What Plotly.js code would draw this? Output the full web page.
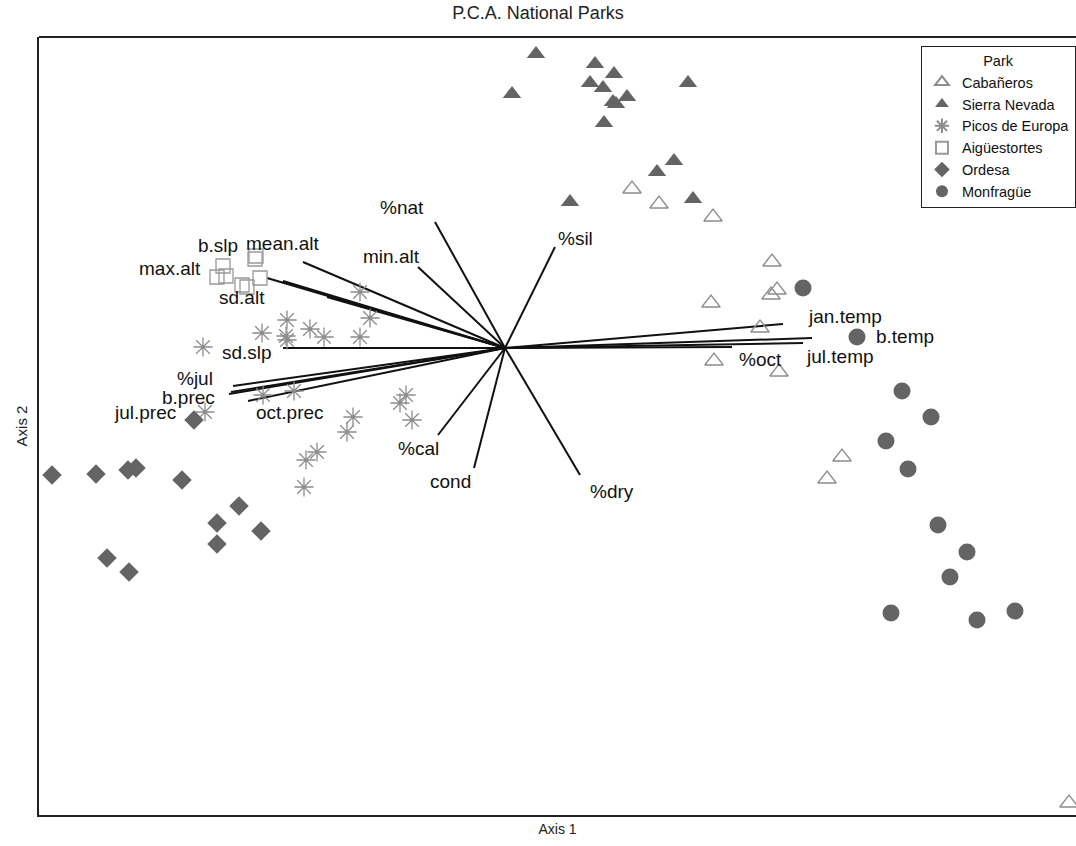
<!DOCTYPE html>
<html>
<head>
<meta charset="utf-8">
<script src="https://cdn.plot.ly/plotly-3.0.1.min.js"></script>
<style>html,body{margin:0;padding:0;background:#fff;}#chart{width:1076px;height:846px;}</style>
</head>
<body>
<div id="chart"></div>
<script>
// PCA site scores (Axis 1, Axis 2)
const cabanerosX = [1.27, 1.54, 2.08, 2.67, 2.72, 2.66, 2.06, 2.55, 2.09, 2.74, 3.37, 3.22, 5.64];
const cabanerosY = [1.59, 1.44, 1.31, 0.86, 0.58, 0.53, 0.45, 0.20, -0.13, -0.24, -1.09, -1.31, -4.55];

const sierraX = [0.31, 0.90, 1.09, 0.85, 0.98, 1.08, 1.11, 1.22, 0.99, 0.07, 1.83, 1.52, 1.69, 1.88, 0.65];
const sierraY = [2.94, 2.84, 2.74, 2.65, 2.60, 2.46, 2.44, 2.51, 2.25, 2.54, 2.65, 1.76, 1.87, 1.49, 1.46];

const picosX = [-1.45, -1.35, -2.18, -2.43, -2.19, -2.18, -1.95, -1.81, -1.45, -3.02, -2.42, -2.11, -3.00, -1.52, -1.58, -1.88, -1.99, -2.01, -0.99, -1.05, -0.93];
const picosY = [0.56, 0.30, 0.28, 0.15, 0.12, 0.08, 0.19, 0.11, 0.11, 0.01, -0.47, -0.43, -0.64, -0.69, -0.84, -1.04, -1.12, -1.39, -0.47, -0.55, -0.72];

const aiguesX = [-2.82, -2.88, -2.79, -2.50, -2.49, -2.45, -2.63, -2.58];
const aiguesY = [0.82, 0.71, 0.72, 0.89, 0.92, 0.70, 0.63, 0.61];

const ordesaX = [-4.53, -4.09, -3.77, -3.69, -3.23, -3.11, -2.66, -2.88, -2.44, -2.88, -3.98, -3.76];
const ordesaY = [-1.27, -1.26, -1.22, -1.20, -1.32, -0.72, -1.58, -1.75, -1.83, -1.96, -2.10, -2.24];

const monfragueX = [2.98, 3.52, 3.97, 4.26, 3.81, 4.03, 4.33, 4.62, 4.45, 3.86, 4.72, 5.10];
const monfragueY = [0.60, 0.11, -0.43, -0.69, -0.93, -1.21, -1.77, -2.04, -2.29, -2.65, -2.72, -2.63];

// Variable loadings (vector end points)
const varNames = ["%nat", "min.alt", "mean.alt", "max.alt", "b.slp", "sd.alt", "sd.slp", "%jul", "b.prec", "jul.prec", "oct.prec", "%cal", "cond", "%dry", "%sil", "jan.temp", "b.temp", "jul.temp", "%oct"];
const varX = [-0.70, -0.87, -2.02, -2.38, -2.22, -1.78, -2.22, -2.72, -2.76, -2.74, -2.57, -0.67, -0.31, 0.75, 0.50, 2.78, 3.07, 2.98, 2.27];
const varY = [1.26, 0.81, 0.86, 0.70, 0.67, 0.51, 0.00, -0.38, -0.46, -0.44, -0.53, -0.87, -1.20, -1.27, 1.01, 0.24, 0.10, 0.05, 0.01];
// label anchor points for the variable names
const labelX = [-1.03, -1.14, -2.22, -3.35, -2.87, -2.63, -2.58, -3.10, -3.17, -3.60, -2.15, -0.87, -0.55, 1.07, 0.70, 3.40, 4.00, 3.35, 2.55];
const labelY = [1.41, 0.92, 1.05, 0.80, 1.03, 0.51, -0.04, -0.30, -0.49, -0.64, -0.64, -1.00, -1.33, -1.43, 1.10, 0.32, 0.12, -0.08, -0.11];

const dark = "#646464";
const light = "#8c8c8c";

const traces = [];

// vectors
const lx = [], ly = [];
for (let i = 0; i < varX.length; i++) { lx.push(0, varX[i], null); ly.push(0, varY[i], null); }
traces.push({x: lx, y: ly, mode: "lines", line: {color: "#111", width: 2}, showlegend: false, hoverinfo: "skip"});

traces.push({name: "Cabañeros", x: cabanerosX, y: cabanerosY, mode: "markers", type: "scatter",
  marker: {symbol: "triangle-up-open", size: 16, color: light, line: {width: 1.3, color: light}}});
traces.push({name: "Sierra Nevada", x: sierraX, y: sierraY, mode: "markers", type: "scatter",
  marker: {symbol: "triangle-up", size: 16, color: dark, line: {width: 0}}});
traces.push({name: "Picos de Europa", x: picosX, y: picosY, mode: "markers", type: "scatter",
  marker: {symbol: "asterisk-open", size: 16, color: light, line: {width: 1.3, color: light}}});
traces.push({name: "Aigüestortes", x: aiguesX, y: aiguesY, mode: "markers", type: "scatter",
  marker: {symbol: "square-open", size: 14, color: "#999", line: {width: 1.3, color: "#999"}}});
traces.push({name: "Ordesa", x: ordesaX, y: ordesaY, mode: "markers", type: "scatter",
  marker: {symbol: "diamond", size: 15, color: dark, line: {width: 0}}});
traces.push({name: "Monfragüe", x: monfragueX, y: monfragueY, mode: "markers", type: "scatter",
  marker: {symbol: "circle", size: 17, color: dark, line: {width: 0}}});

const annotations = varNames.map((n, i) => ({
  x: labelX[i], y: labelY[i], text: n, showarrow: false, xanchor: "center", yanchor: "middle",
  font: {family: "Liberation Sans, Arial, sans-serif", size: 19, color: "#111"}
}));

const layout = {
  width: 1076, height: 846,
  margin: {l: 39, r: 0, t: 37, b: 31, autoexpand: false},
  paper_bgcolor: "#fff", plot_bgcolor: "#fff",
  font: {family: "Liberation Sans, Arial, sans-serif", color: "#111"},
  title: {text: "P.C.A. National Parks", x: 0.5, xanchor: "center", y: 0.985, yanchor: "middle",
    font: {size: 18, color: "#222"}},
  xaxis: {range: [-4.66, 5.71], showgrid: false, zeroline: false, showticklabels: false, ticks: "",
    showline: true, linecolor: "#222", linewidth: 2, mirror: false,
    title: {text: "Axis 1", font: {size: 14, color: "#222"}, standoff: 8}, automargin: false},
  yaxis: {range: [-4.67, 3.11], showgrid: false, zeroline: false, showticklabels: false, ticks: "",
    showline: true, linecolor: "#222", linewidth: 2, mirror: false,
    title: {text: "Axis 2", font: {size: 15, color: "#222"}, standoff: 6}, automargin: false},
  shapes: [{type: "line", xref: "paper", yref: "paper", x0: 0, x1: 1.01, y0: 1, y1: 1,
    line: {color: "#222", width: 2}}],
  legend: {x: 0.8505, y: 0.988, xanchor: "left", yanchor: "top", bgcolor: "#fff",
    bordercolor: "#222", borderwidth: 1, font: {size: 14.5, color: "#111"},
    title: {text: "Park", side: "top center", font: {size: 14.5, color: "#111"}},
    itemsizing: "constant", tracegroupgap: 0, itemwidth: 30},
  annotations: annotations,
  showlegend: true
};

Plotly.newPlot("chart", traces, layout, {staticPlot: true, displayModeBar: false});
</script>
</body>
</html>
